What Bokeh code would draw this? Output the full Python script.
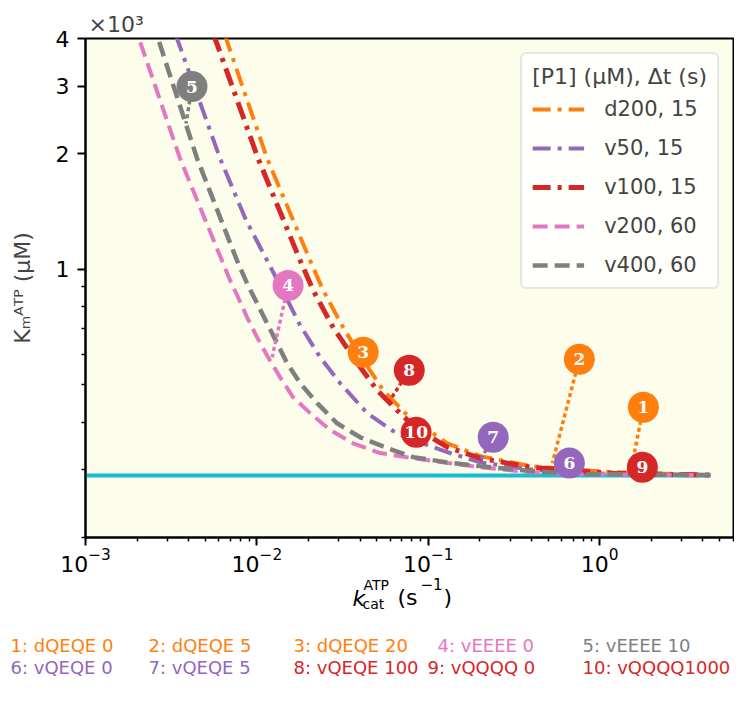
from bokeh.plotting import figure
from bokeh.layouts import column, row
from bokeh.models import Range1d, FixedTicker, Legend, LegendItem, ColumnDataSource, Title
from bokeh.core.properties import value
from bokeh.embed import file_html
from bokeh.resources import INLINE

# ---------------- data ----------------
kcat_d200 = [0.00548, 0.00661, 0.01147, 0.02044, 0.02435, 0.03185, 0.04169, 0.05454, 0.07527, 0.1289, 0.2009, 0.3934, 0.7704, 1.2007, 4.42]
km_d200 = [5018, 3997, 1946, 1055, 882, 706, 580, 484, 417, 352, 326, 307, 300, 296, 291]

kcat_v50 = [0.002835, 0.00342, 0.0061, 0.00865, 0.01147, 0.01461, 0.01788, 0.02338, 0.03059, 0.04397, 0.06237, 0.08163, 0.1289, 0.2009, 0.3934, 0.7704, 4.42]
km_v50 = [5018, 3997, 1946, 1342, 1055, 855, 715, 590, 505, 422, 379, 359, 334, 314, 301, 294, 291]

kcat_v100 = [0.004724, 0.005702, 0.01016, 0.01788, 0.02128, 0.02785, 0.03744, 0.05031, 0.06585, 0.0849, 0.1289, 0.2009, 0.3934, 0.7704, 1.2007, 4.42]
km_v100 = [5018, 3997, 1946, 1055, 882, 706, 580, 484, 429, 385, 344, 322, 305, 298, 294, 291]

kcat_v200 = [0.001723, 0.002052, 0.003561, 0.006349, 0.006975, 0.00777, 0.008766, 0.01003, 0.01162, 0.01366, 0.01627, 0.02044, 0.02675, 0.03644, 0.05238, 0.08163, 0.1289, 0.2009, 0.3934, 0.7704, 4.42]
km_v200 = [5018, 3997, 1946, 1037, 936, 845, 750, 665, 590, 523, 464, 422, 381, 352, 332, 322, 313, 305, 296, 292.5, 291]

kcat_v400 = [0.002196, 0.00265, 0.004477, 0.00777, 0.008766, 0.01003, 0.01147, 0.01312, 0.01501, 0.01788, 0.02246, 0.02938, 0.04004, 0.05754, 0.08163, 0.1289, 0.2009, 0.3934, 0.7704, 4.42]
km_v400 = [5018, 3997, 1946, 1037, 919, 815, 723, 642, 569, 505, 448, 397, 365, 342, 324, 314, 307, 298, 292.5, 291]

kcat_base = [0.001, 4.42]
km_base = [290, 290]

series_labels = ["d200, 15", "v50, 15", "v100, 15", "v200, 60", "v400, 60"]
legend_title = "[P1] (μM), Δt (s)"
y_label = "Kₘᴬᵀᴾ (μM)"

ann_labels = ["1", "2", "3", "4", "5", "6", "7", "8", "9", "10"]
ann_kcat = [1.797, 0.760, 0.0417, 0.0152, 0.00418, 0.665, 0.239, 0.0774, 1.773, 0.0849]
ann_km = [437, 583, 608, 908, 2997, 312.6, 365, 546, 305, 376]
ann_tgt_kcat = [1.508, 0.529, 0.0417, 0.01227, 0.00386, 0.665, 0.201, 0.0583, 1.773, 0.0849]
ann_tgt_km = [294, 312.6, 608, 590, 2400, 312.6, 318, 448, 305, 376]

key_texts = ["1: dQEQE 0", "2: dQEQE 5", "3: dQEQE 20", "4: vEEEE 0", "5: vEEEE 10",
             "6: vQEQE 0", "7: vQEQE 5", "8: vQEQE 100", "9: vQQQQ 0", "10: vQQQQ1000"]

x_major = [0.001, 0.01, 0.1, 1.0]
y_major = [1000, 2000, 3000, 4000]
y_major_text = ["1", "2", "3", "4"]

# ---------------- styles / layout ----------------
ORANGE, PURPLE, RED, PINK, GRAY, CYAN = "#ff7f0e", "#9467bd", "#d62728", "#e377c2", "#7f7f7f", "#17becf"
ann_colors = [ORANGE, ORANGE, ORANGE, PINK, GRAY, PURPLE, PURPLE, RED, RED, RED]
FONT = "DejaVu Sans"

W = 734
MB_BOTTOM = 37
B_FRAME_TOP = 38 + 499 + MB_BOTTOM + 8   # page row where the strip's drawing area starts
B_FH = 107

p = figure(x_axis_type="log", y_axis_type="log",
           x_range=Range1d(1e-3, 6.03), y_range=Range1d(200, 4000),
           frame_width=648, frame_height=499,
           min_border_left=85, min_border_right=1, min_border_top=38, min_border_bottom=MB_BOTTOM,
           output_backend="svg", toolbar_location=None, title=None,
           background_fill_color="#fdfdec", border_fill_color="white")
p.grid.visible = False
p.outline_line_color = "black"
p.outline_line_width = 2

x_minor = [k * 10.0 ** e for e in range(-3, 1) for k in range(2, 10)]
p.xaxis.ticker = FixedTicker(ticks=x_major, minor_ticks=x_minor)
y_minor = [200, 300, 400, 500, 600, 700, 800, 900]
p.yaxis.ticker = FixedTicker(ticks=y_major, minor_ticks=y_minor)
p.yaxis.major_label_overrides = {int(v): t for v, t in zip(y_major, y_major_text)}

for ax in (p.xaxis[0], p.yaxis[0]):
    ax.axis_line_width = 2
    ax.axis_line_color = "black"
    ax.major_tick_line_width = 2
    ax.minor_tick_line_width = 1.5
    ax.major_tick_out = 8
    ax.major_tick_in = 0
    ax.minor_tick_out = 4
    ax.minor_tick_in = 0
    ax.major_label_text_font = FONT
    ax.major_label_text_font_size = "22px"
    ax.major_label_text_color = "black"
p.yaxis.major_label_standoff = 8
p.xaxis.major_label_standoff = 2
p.yaxis.axis_label = y_label
p.yaxis.axis_label_text_font = FONT
p.yaxis.axis_label_text_font_size = "22px"
p.yaxis.axis_label_text_font_style = "normal"
p.yaxis.axis_label_standoff = 18

p.add_layout(Title(text="×10³", align="left", offset=3, standoff=4, text_font=FONT,
                   text_font_size="22px", text_font_style="normal"), "above")

# baseline
p.line(kcat_base, km_base, line_color=CYAN, line_width=4)

dashdot = "18 7 4 7"
dashed = "15 7"
r1 = p.line(kcat_d200, km_d200, line_color=ORANGE, line_width=4, line_dash=dashdot)
r2 = p.line(kcat_v50, km_v50, line_color=PURPLE, line_width=4, line_dash=dashdot)
r3 = p.line(kcat_v100, km_v100, line_color=RED, line_width=5, line_dash=dashdot)
r4 = p.line(kcat_v200, km_v200, line_color=PINK, line_width=4, line_dash=dashed)
r5 = p.line(kcat_v400, km_v400, line_color=GRAY, line_width=4.5, line_dash=dashed)

src = ColumnDataSource(dict(x=ann_kcat, y=ann_km, x0=ann_tgt_kcat, y0=ann_tgt_km,
                            t=ann_labels, c=ann_colors))
p.segment(x0="x", y0="y", x1="x0", y1="y0", source=src, line_color="c",
          line_width=3.5, line_dash="4 3")
p.scatter(x="x", y="y", source=src, size=31, marker="circle", fill_color="c", line_color=None)
p.text(x="x", y="y", text="t", source=src, text_color="white", text_font=value("DejaVu Serif"),
       text_font_style="bold", text_font_size="17px", text_align="center", text_baseline="middle")

legend = Legend(items=[LegendItem(label=l, renderers=[r]) for l, r in zip(series_labels, [r1, r2, r3, r4, r5])],
                location="top_right", title=legend_title,
                title_text_font=FONT, title_text_font_style="normal", title_text_font_size="22px",
                label_text_font=FONT, label_text_font_size="21px",
                glyph_width=52, glyph_height=24, label_height=24, label_standoff=20,
                spacing=15, padding=10, margin=14, title_standoff=8,
                border_line_color="#cccccc", border_line_width=2, border_radius=6,
                background_fill_color="white", background_fill_alpha=0.8)
p.add_layout(legend)

# bottom strip: x-axis label pieces and the numbered key (frame sized explicitly, 1 unit = 1 px)
B = figure(frame_width=W, frame_height=B_FH, x_range=Range1d(0, W), y_range=Range1d(0, B_FH),
           output_backend="svg", toolbar_location=None, title=None,
           x_axis_location=None, y_axis_location=None,
           min_border_left=0, min_border_right=0, min_border_top=0, min_border_bottom=0,
           outline_line_color=None, background_fill_color="white", border_fill_color="white")
B.grid.visible = False


def txt(x, y, s, size, style="normal", color="black"):
    # y given as pixel row from the top of the page
    B.text(x=[x], y=[B_FH - (y - B_FRAME_TOP)], text=[s], text_font=value(FONT), text_font_size=size,
           text_font_style=style, text_color=color, text_align="left", text_baseline="alphabetic")


txt(352, 606, "k", "22px", "italic")
txt(363, 592, "ATP", "14px")
txt(362, 611, "cat", "14px")
txt(397, 605, "(s", "22px")
txt(420, 591, "−1", "15px")
txt(443, 605, ")", "22px")

key_x = [10, 148, 293, 437, 582, 10, 148, 293, 427, 582]
key_y = [653] * 5 + [675] * 5
for t, c, x, y in zip(key_texts, ann_colors, key_x, key_y):
    txt(x, y, t, "18px", color=c)

layout = column(row(p), B)
open("out.html", "w").write(file_html(layout, INLINE))
